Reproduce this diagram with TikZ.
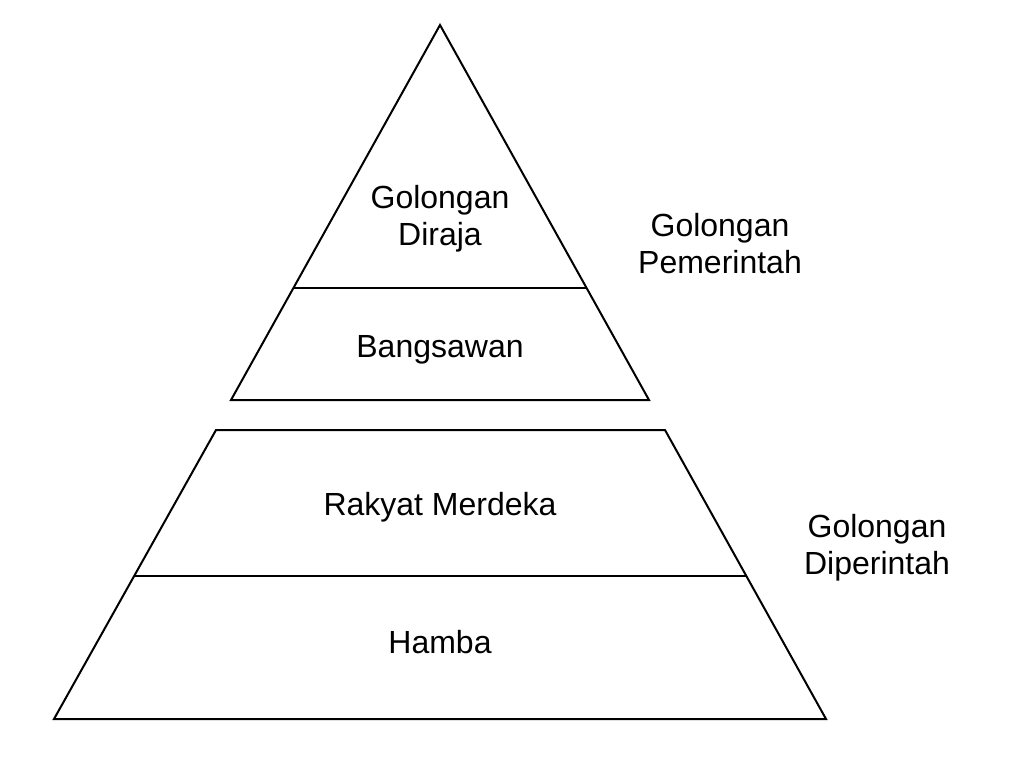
\documentclass[tikz,border=0pt]{standalone}
\usepackage{fontspec}
\setmainfont{Liberation Sans}
\usetikzlibrary{positioning}

\begin{document}
\begin{tikzpicture}
      [x=1pt, y=-1pt, line width=2pt, line join=miter,
      layer/.style={align=center, inner sep=0pt, anchor=base,
        font=\fontsize{32}{37}\selectfont},
      group/.style={align=center, inner sep=0pt, anchor=base,
        font=\fontsize{32}{37}\selectfont}]

      \useasboundingbox (0,0) rectangle (1024,768);

      % upper pyramid
      \coordinate (apex) at (440,25);
      \coordinate (upL) at (231,400);
      \coordinate (upR) at (649,400);
      \draw (apex) -- (upR) -- (upL) -- cycle;
      \draw (294,288) -- (586,288);

      % lower pyramid
      \coordinate (loTL) at (216,430);
      \coordinate (loTR) at (665,430);
      \coordinate (loBR) at (826,719);
      \coordinate (loBL) at (54,719);
      \draw (loTL) -- (loTR) -- (loBR) -- (loBL) -- cycle;
      \draw (135,576) -- (746,576);

      \node [layer] (diraja) at (440,245) {Golongan\\Diraja};
      \node [layer] (bangsa) at (440,357) {Bangsawan};
      \node [layer] (rakyat) at (440,515) {Rakyat Merdeka};
      \node [layer] (hamba)  at (440,653) {Hamba};

      \node [group] (perintah)  at (720,273) {Golongan\\Pemerintah};
      \node [group] (diperintah) at (877,574) {Golongan\\Diperintah};
    \end{tikzpicture}
\end{document}
